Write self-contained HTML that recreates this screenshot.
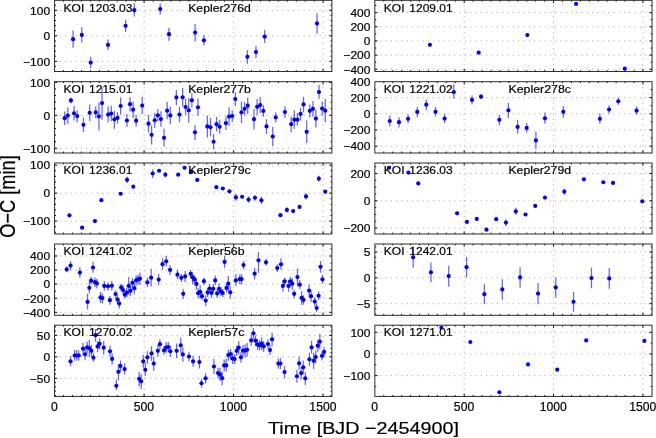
<!DOCTYPE html><html><head><meta charset="utf-8"><title>O-C</title><style>html,body{margin:0;padding:0;background:#fff}svg{display:block}text{font-family:"Liberation Sans",Arial,Helvetica,sans-serif;fill:#000;stroke:#000;stroke-width:0.2px}</style></head><body>
<svg width="656" height="438" viewBox="0 0 656 438">
<rect width="656" height="438" fill="#fff"/>
<g id="L1">
<path d="M144.1 0.3V71.5M233.6 0.3V71.5M323.1 0.3V71.5M54.6 61.3H331.9M54.6 35.8H331.9M54.6 10.3H331.9" stroke="#a4a4a4" stroke-width="0.85" stroke-dasharray="1.2 4.1" fill="none"/>
<path d="M63.55 71.5v-1.4M63.55 0.3v1.4M72.5 71.5v-1.4M72.5 0.3v1.4M81.45 71.5v-1.4M81.45 0.3v1.4M90.4 71.5v-1.4M90.4 0.3v1.4M99.35 71.5v-1.4M99.35 0.3v1.4M108.3 71.5v-1.4M108.3 0.3v1.4M117.25 71.5v-1.4M117.25 0.3v1.4M126.2 71.5v-1.4M126.2 0.3v1.4M135.15 71.5v-1.4M135.15 0.3v1.4M144.1 71.5v-2.7M144.1 0.3v2.7M153.05 71.5v-1.4M153.05 0.3v1.4M162 71.5v-1.4M162 0.3v1.4M170.95 71.5v-1.4M170.95 0.3v1.4M179.9 71.5v-1.4M179.9 0.3v1.4M188.85 71.5v-1.4M188.85 0.3v1.4M197.8 71.5v-1.4M197.8 0.3v1.4M206.75 71.5v-1.4M206.75 0.3v1.4M215.7 71.5v-1.4M215.7 0.3v1.4M224.65 71.5v-1.4M224.65 0.3v1.4M233.6 71.5v-2.7M233.6 0.3v2.7M242.55 71.5v-1.4M242.55 0.3v1.4M251.5 71.5v-1.4M251.5 0.3v1.4M260.45 71.5v-1.4M260.45 0.3v1.4M269.4 71.5v-1.4M269.4 0.3v1.4M278.35 71.5v-1.4M278.35 0.3v1.4M287.3 71.5v-1.4M287.3 0.3v1.4M296.25 71.5v-1.4M296.25 0.3v1.4M305.2 71.5v-1.4M305.2 0.3v1.4M314.15 71.5v-1.4M314.15 0.3v1.4M323.1 71.5v-2.7M323.1 0.3v2.7M54.6 71.5h1.4M331.9 71.5h-1.4M54.6 66.4h1.4M331.9 66.4h-1.4M54.6 61.3h2.7M331.9 61.3h-2.7M54.6 56.2h1.4M331.9 56.2h-1.4M54.6 51.1h1.4M331.9 51.1h-1.4M54.6 46h1.4M331.9 46h-1.4M54.6 40.9h1.4M331.9 40.9h-1.4M54.6 35.8h2.7M331.9 35.8h-2.7M54.6 30.7h1.4M331.9 30.7h-1.4M54.6 25.6h1.4M331.9 25.6h-1.4M54.6 20.5h1.4M331.9 20.5h-1.4M54.6 15.4h1.4M331.9 15.4h-1.4M54.6 10.3h2.7M331.9 10.3h-2.7M54.6 5.2h1.4M331.9 5.2h-1.4" stroke="#111" stroke-width="1.0" fill="none"/>
<clipPath id="cL1"><rect x="54.6" y="0.3" width="277.3" height="71.2"/></clipPath>
<g clip-path="url(#cL1)">
<path d="M73.1 30.5V47.7M81.8 27.2V42.8M90.7 56.8V68.3M108 39.5V50.2M125.6 19.8V32.1M134.3 3.3V16.5M160.2 3.6V14.5M169 27.7V40.8M195.15 23.9V41.5M203.9 35V45.6M247.4 49.9V63.7M255.96 46.1V58M264.7 30.1V43.1M317 13.2V33.75" stroke="#6464ff" stroke-width="1.25" fill="none"/>
<g fill="#0000ff"><circle cx="73.1" cy="39.2" r="2.1"/><circle cx="81.8" cy="34.9" r="2.1"/><circle cx="90.7" cy="62.6" r="2.1"/><circle cx="108" cy="44.9" r="2.1"/><circle cx="125.6" cy="25.8" r="2.1"/><circle cx="134.3" cy="10.2" r="2.1"/><circle cx="160.2" cy="9.1" r="2.1"/><circle cx="169" cy="34.2" r="2.1"/><circle cx="195.15" cy="32.6" r="2.1"/><circle cx="203.9" cy="40.3" r="2.1"/><circle cx="247.4" cy="56.8" r="2.1"/><circle cx="255.96" cy="52" r="2.1"/><circle cx="264.7" cy="36.7" r="2.1"/><circle cx="317" cy="23.4" r="2.1"/></g></g>
<rect x="54.6" y="0.3" width="277.3" height="71.2" fill="none" stroke="#222" stroke-width="0.95"/>
<text x="50.1" y="14.6" font-size="11.2" text-anchor="end" transform="translate(50.1 0) scale(1.07 1) translate(-50.1 0)">100</text>
<text x="50.1" y="40.1" font-size="11.2" text-anchor="end" transform="translate(50.1 0) scale(1.07 1) translate(-50.1 0)">0</text>
<text x="50.1" y="65.6" font-size="11.2" text-anchor="end" transform="translate(50.1 0) scale(1.07 1) translate(-50.1 0)">−100</text>
<text x="63.6" y="11.5" font-size="11.2" textLength="68.8" lengthAdjust="spacingAndGlyphs" word-spacing="1.4">KOI 1203.03</text>
<text x="188.2" y="11.5" font-size="11.2" textLength="62.6" lengthAdjust="spacingAndGlyphs">Kepler276d</text>
</g>
<g id="L2">
<path d="M144.1 81.7V153M233.6 81.7V153M323.1 81.7V153M54.6 148.3H331.9M54.6 115.3H331.9" stroke="#a4a4a4" stroke-width="0.85" stroke-dasharray="1.2 4.1" fill="none"/>
<path d="M63.55 153v-1.4M63.55 81.7v1.4M72.5 153v-1.4M72.5 81.7v1.4M81.45 153v-1.4M81.45 81.7v1.4M90.4 153v-1.4M90.4 81.7v1.4M99.35 153v-1.4M99.35 81.7v1.4M108.3 153v-1.4M108.3 81.7v1.4M117.25 153v-1.4M117.25 81.7v1.4M126.2 153v-1.4M126.2 81.7v1.4M135.15 153v-1.4M135.15 81.7v1.4M144.1 153v-2.7M144.1 81.7v2.7M153.05 153v-1.4M153.05 81.7v1.4M162 153v-1.4M162 81.7v1.4M170.95 153v-1.4M170.95 81.7v1.4M179.9 153v-1.4M179.9 81.7v1.4M188.85 153v-1.4M188.85 81.7v1.4M197.8 153v-1.4M197.8 81.7v1.4M206.75 153v-1.4M206.75 81.7v1.4M215.7 153v-1.4M215.7 81.7v1.4M224.65 153v-1.4M224.65 81.7v1.4M233.6 153v-2.7M233.6 81.7v2.7M242.55 153v-1.4M242.55 81.7v1.4M251.5 153v-1.4M251.5 81.7v1.4M260.45 153v-1.4M260.45 81.7v1.4M269.4 153v-1.4M269.4 81.7v1.4M278.35 153v-1.4M278.35 81.7v1.4M287.3 153v-1.4M287.3 81.7v1.4M296.25 153v-1.4M296.25 81.7v1.4M305.2 153v-1.4M305.2 81.7v1.4M314.15 153v-1.4M314.15 81.7v1.4M323.1 153v-2.7M323.1 81.7v2.7M54.6 148.3h2.7M331.9 148.3h-2.7M54.6 141.7h1.4M331.9 141.7h-1.4M54.6 135.1h1.4M331.9 135.1h-1.4M54.6 128.5h1.4M331.9 128.5h-1.4M54.6 121.9h1.4M331.9 121.9h-1.4M54.6 115.3h2.7M331.9 115.3h-2.7M54.6 108.7h1.4M331.9 108.7h-1.4M54.6 102.1h1.4M331.9 102.1h-1.4M54.6 95.5h1.4M331.9 95.5h-1.4M54.6 88.9h1.4M331.9 88.9h-1.4M54.6 82.3h2.7M331.9 82.3h-2.7" stroke="#111" stroke-width="1.0" fill="none"/>
<clipPath id="cL2"><rect x="54.6" y="81.7" width="277.3" height="71.3"/></clipPath>
<g clip-path="url(#cL2)">
<path d="M64.68 111.46V124.96M67.8 107.34V123.8M70.93 97.46V103.55M74.06 105.7V120.51M77.19 110.3V122.16M83.45 117.55V132.04M89.7 104.54V121.01M95.79 106.19V118.54M98.92 102.4V130.39M102.05 87.59V119.69M108.14 106.52V122.49M111.27 105.7V121.34M114.4 110.63V128.74M117.52 112.28V123.48M120.65 97.46V114.42M126.91 113.93V127.1M130.04 97.13V111.46M133.16 101.58V118.04M136.13 114.75V126.77M142.22 96.97V113.93M148.48 114.75V132.53M151.6 125.45V144.38M154.73 112.77V127.92M157.86 108.99V121.34M160.91 111.13V126.77M164.04 128.74V146.85M167.16 102.07V119.2M170.29 106.52V124.13M176.38 90.05V105.2M179.51 107.01V122.16M182.64 87.91V106.85M185.6 98.78V115.24M188.73 97.96V122.65M191.86 93.35V107.34M194.99 125.12V139.94M197.95 98.62V116.07M207.34 115.57V137.47M210.46 118.04V136.48M213.59 134.18V149.32M216.55 116.89V131.54M219.68 119.69V133.85M225.94 116.4V129.9M229.07 107.34V125.78M232.2 110.14V122.16M235.32 92.2V106.02M241.48 101.58V123.31M244.6 102.07V115.57M247.73 97.46V113.93M253.99 108.99V129.57M257.12 99.11V114.75M260.24 96.97V113.1M263.37 105.2V116.73M266.5 119.2V134.01M272.76 126.77V146.36M275.72 112.28V122.49M284.94 106.19V118.04M291.2 116.4V132.37M294.32 110.3V129.07M297.45 113.1V125.78M300.58 107.67V120.51M303.54 96.64V112.28M306.67 120.51V143.23M309.8 104.54V117.55M312.93 101.09V116.73M315.89 109.81V127.59M319.02 85.12V98.78M322.15 101.58V115.57M325.27 99.11V122.16" stroke="#6464ff" stroke-width="1.25" fill="none"/>
<g fill="#0000ff"><circle cx="64.68" cy="118.21" r="2.1"/><circle cx="67.8" cy="115.57" r="2.1"/><circle cx="70.93" cy="100.43" r="2.1"/><circle cx="74.06" cy="113.27" r="2.1"/><circle cx="77.19" cy="116.07" r="2.1"/><circle cx="83.45" cy="124.79" r="2.1"/><circle cx="89.7" cy="112.77" r="2.1"/><circle cx="95.79" cy="112.45" r="2.1"/><circle cx="98.92" cy="116.4" r="2.1"/><circle cx="102.05" cy="103.06" r="2.1"/><circle cx="108.14" cy="114.59" r="2.1"/><circle cx="111.27" cy="113.6" r="2.1"/><circle cx="114.4" cy="119.36" r="2.1"/><circle cx="117.52" cy="117.88" r="2.1"/><circle cx="120.65" cy="106.02" r="2.1"/><circle cx="126.91" cy="120.51" r="2.1"/><circle cx="130.04" cy="104.21" r="2.1"/><circle cx="133.16" cy="109.65" r="2.1"/><circle cx="136.13" cy="120.68" r="2.1"/><circle cx="142.22" cy="105.53" r="2.1"/><circle cx="148.48" cy="123.64" r="2.1"/><circle cx="151.6" cy="134.84" r="2.1"/><circle cx="154.73" cy="120.35" r="2.1"/><circle cx="157.86" cy="115.24" r="2.1"/><circle cx="160.91" cy="119.03" r="2.1"/><circle cx="164.04" cy="137.8" r="2.1"/><circle cx="167.16" cy="110.63" r="2.1"/><circle cx="170.29" cy="115.41" r="2.1"/><circle cx="176.38" cy="97.46" r="2.1"/><circle cx="179.51" cy="114.59" r="2.1"/><circle cx="182.64" cy="97.3" r="2.1"/><circle cx="185.6" cy="107.01" r="2.1"/><circle cx="188.73" cy="110.3" r="2.1"/><circle cx="191.86" cy="100.26" r="2.1"/><circle cx="194.99" cy="132.37" r="2.1"/><circle cx="197.95" cy="107.34" r="2.1"/><circle cx="207.34" cy="126.44" r="2.1"/><circle cx="210.46" cy="127.26" r="2.1"/><circle cx="213.59" cy="141.75" r="2.1"/><circle cx="216.55" cy="124.13" r="2.1"/><circle cx="219.68" cy="126.77" r="2.1"/><circle cx="225.94" cy="123.15" r="2.1"/><circle cx="229.07" cy="116.56" r="2.1"/><circle cx="232.2" cy="116.07" r="2.1"/><circle cx="235.32" cy="99.11" r="2.1"/><circle cx="241.48" cy="112.28" r="2.1"/><circle cx="244.6" cy="108.82" r="2.1"/><circle cx="247.73" cy="105.7" r="2.1"/><circle cx="253.99" cy="119.2" r="2.1"/><circle cx="257.12" cy="106.85" r="2.1"/><circle cx="260.24" cy="105.04" r="2.1"/><circle cx="263.37" cy="110.96" r="2.1"/><circle cx="266.5" cy="126.44" r="2.1"/><circle cx="272.76" cy="136.48" r="2.1"/><circle cx="275.72" cy="117.38" r="2.1"/><circle cx="284.94" cy="112.12" r="2.1"/><circle cx="291.2" cy="124.13" r="2.1"/><circle cx="294.32" cy="119.69" r="2.1"/><circle cx="297.45" cy="119.69" r="2.1"/><circle cx="300.58" cy="113.93" r="2.1"/><circle cx="303.54" cy="104.38" r="2.1"/><circle cx="306.67" cy="131.87" r="2.1"/><circle cx="309.8" cy="110.8" r="2.1"/><circle cx="312.93" cy="108.82" r="2.1"/><circle cx="315.89" cy="118.54" r="2.1"/><circle cx="319.02" cy="92.03" r="2.1"/><circle cx="322.15" cy="108.49" r="2.1"/><circle cx="325.27" cy="110.63" r="2.1"/></g></g>
<rect x="54.6" y="81.7" width="277.3" height="71.3" fill="none" stroke="#222" stroke-width="0.95"/>
<text x="50.1" y="86.6" font-size="11.2" text-anchor="end" transform="translate(50.1 0) scale(1.07 1) translate(-50.1 0)">100</text>
<text x="50.1" y="119.6" font-size="11.2" text-anchor="end" transform="translate(50.1 0) scale(1.07 1) translate(-50.1 0)">0</text>
<text x="50.1" y="152.6" font-size="11.2" text-anchor="end" transform="translate(50.1 0) scale(1.07 1) translate(-50.1 0)">−100</text>
<text x="63.6" y="93.2" font-size="11.2" textLength="68.8" lengthAdjust="spacingAndGlyphs" word-spacing="1.4">KOI 1215.01</text>
<text x="188.2" y="93.2" font-size="11.2" textLength="62.6" lengthAdjust="spacingAndGlyphs">Kepler277b</text>
</g>
<g id="L3">
<path d="M144.1 163V234M233.6 163V234M323.1 163V234M54.6 221.1H331.9M54.6 193.15H331.9M54.6 165.2H331.9" stroke="#a4a4a4" stroke-width="0.85" stroke-dasharray="1.2 4.1" fill="none"/>
<path d="M63.55 234v-1.4M63.55 163v1.4M72.5 234v-1.4M72.5 163v1.4M81.45 234v-1.4M81.45 163v1.4M90.4 234v-1.4M90.4 163v1.4M99.35 234v-1.4M99.35 163v1.4M108.3 234v-1.4M108.3 163v1.4M117.25 234v-1.4M117.25 163v1.4M126.2 234v-1.4M126.2 163v1.4M135.15 234v-1.4M135.15 163v1.4M144.1 234v-2.7M144.1 163v2.7M153.05 234v-1.4M153.05 163v1.4M162 234v-1.4M162 163v1.4M170.95 234v-1.4M170.95 163v1.4M179.9 234v-1.4M179.9 163v1.4M188.85 234v-1.4M188.85 163v1.4M197.8 234v-1.4M197.8 163v1.4M206.75 234v-1.4M206.75 163v1.4M215.7 234v-1.4M215.7 163v1.4M224.65 234v-1.4M224.65 163v1.4M233.6 234v-2.7M233.6 163v2.7M242.55 234v-1.4M242.55 163v1.4M251.5 234v-1.4M251.5 163v1.4M260.45 234v-1.4M260.45 163v1.4M269.4 234v-1.4M269.4 163v1.4M278.35 234v-1.4M278.35 163v1.4M287.3 234v-1.4M287.3 163v1.4M296.25 234v-1.4M296.25 163v1.4M305.2 234v-1.4M305.2 163v1.4M314.15 234v-1.4M314.15 163v1.4M323.1 234v-2.7M323.1 163v2.7M54.6 232.28h1.4M331.9 232.28h-1.4M54.6 226.69h1.4M331.9 226.69h-1.4M54.6 221.1h2.7M331.9 221.1h-2.7M54.6 215.51h1.4M331.9 215.51h-1.4M54.6 209.92h1.4M331.9 209.92h-1.4M54.6 204.33h1.4M331.9 204.33h-1.4M54.6 198.74h1.4M331.9 198.74h-1.4M54.6 193.15h2.7M331.9 193.15h-2.7M54.6 187.56h1.4M331.9 187.56h-1.4M54.6 181.97h1.4M331.9 181.97h-1.4M54.6 176.38h1.4M331.9 176.38h-1.4M54.6 170.79h1.4M331.9 170.79h-1.4M54.6 165.2h2.7M331.9 165.2h-2.7" stroke="#111" stroke-width="1.0" fill="none"/>
<clipPath id="cL3"><rect x="54.6" y="163" width="277.3" height="71"/></clipPath>
<g clip-path="url(#cL3)">
<path d="M127.07 176.49V183.07M152.68 169.41V177.97M165.35 172.21V177.15M235.88 194.1V200.69M248.55 196.57V202.66M254.98 194.93V200.69M261.4 196.57V203.98M286.91 207.27V212.54M306.01 193.28V199.54M318.85 175.66V181.43" stroke="#6464ff" stroke-width="1.25" fill="none"/>
<g fill="#0000ff"><circle cx="69.45" cy="215.34" r="2.1"/><circle cx="82.13" cy="227.69" r="2.1"/><circle cx="94.97" cy="221.1" r="2.1"/><circle cx="101.39" cy="200.2" r="2.1"/><circle cx="120.65" cy="193.77" r="2.1"/><circle cx="127.07" cy="179.78" r="2.1"/><circle cx="133.33" cy="186.7" r="2.1"/><circle cx="152.68" cy="173.52" r="2.1"/><circle cx="159.1" cy="170.73" r="2.1"/><circle cx="165.35" cy="174.68" r="2.1"/><circle cx="178.2" cy="174.68" r="2.1"/><circle cx="184.62" cy="167.76" r="2.1"/><circle cx="191.04" cy="172.21" r="2.1"/><circle cx="197.29" cy="179.95" r="2.1"/><circle cx="216.39" cy="187.19" r="2.1"/><circle cx="222.81" cy="188.51" r="2.1"/><circle cx="229.46" cy="191.3" r="2.1"/><circle cx="235.88" cy="197.4" r="2.1"/><circle cx="242.13" cy="196.74" r="2.1"/><circle cx="248.55" cy="199.54" r="2.1"/><circle cx="254.98" cy="197.73" r="2.1"/><circle cx="261.4" cy="200.36" r="2.1"/><circle cx="280.49" cy="215.18" r="2.1"/><circle cx="286.91" cy="209.91" r="2.1"/><circle cx="293.17" cy="211.06" r="2.1"/><circle cx="299.59" cy="206.95" r="2.1"/><circle cx="306.01" cy="196.41" r="2.1"/><circle cx="318.85" cy="178.63" r="2.1"/><circle cx="325.27" cy="191.63" r="2.1"/></g></g>
<rect x="54.6" y="163" width="277.3" height="71" fill="none" stroke="#222" stroke-width="0.95"/>
<text x="50.1" y="169.5" font-size="11.2" text-anchor="end" transform="translate(50.1 0) scale(1.07 1) translate(-50.1 0)">100</text>
<text x="50.1" y="197.45" font-size="11.2" text-anchor="end" transform="translate(50.1 0) scale(1.07 1) translate(-50.1 0)">0</text>
<text x="50.1" y="225.4" font-size="11.2" text-anchor="end" transform="translate(50.1 0) scale(1.07 1) translate(-50.1 0)">−100</text>
<text x="63.6" y="174" font-size="11.2" textLength="68.8" lengthAdjust="spacingAndGlyphs" word-spacing="1.4">KOI 1236.01</text>
<text x="188.2" y="174" font-size="11.2" textLength="62.6" lengthAdjust="spacingAndGlyphs">Kepler279c</text>
</g>
<g id="L4">
<path d="M144.1 244V315.3M233.6 244V315.3M323.1 244V315.3M54.6 312.3H331.9M54.6 298.23H331.9M54.6 284.15H331.9M54.6 270.07H331.9M54.6 256H331.9" stroke="#a4a4a4" stroke-width="0.85" stroke-dasharray="1.2 4.1" fill="none"/>
<path d="M63.55 315.3v-1.4M63.55 244v1.4M72.5 315.3v-1.4M72.5 244v1.4M81.45 315.3v-1.4M81.45 244v1.4M90.4 315.3v-1.4M90.4 244v1.4M99.35 315.3v-1.4M99.35 244v1.4M108.3 315.3v-1.4M108.3 244v1.4M117.25 315.3v-1.4M117.25 244v1.4M126.2 315.3v-1.4M126.2 244v1.4M135.15 315.3v-1.4M135.15 244v1.4M144.1 315.3v-2.7M144.1 244v2.7M153.05 315.3v-1.4M153.05 244v1.4M162 315.3v-1.4M162 244v1.4M170.95 315.3v-1.4M170.95 244v1.4M179.9 315.3v-1.4M179.9 244v1.4M188.85 315.3v-1.4M188.85 244v1.4M197.8 315.3v-1.4M197.8 244v1.4M206.75 315.3v-1.4M206.75 244v1.4M215.7 315.3v-1.4M215.7 244v1.4M224.65 315.3v-1.4M224.65 244v1.4M233.6 315.3v-2.7M233.6 244v2.7M242.55 315.3v-1.4M242.55 244v1.4M251.5 315.3v-1.4M251.5 244v1.4M260.45 315.3v-1.4M260.45 244v1.4M269.4 315.3v-1.4M269.4 244v1.4M278.35 315.3v-1.4M278.35 244v1.4M287.3 315.3v-1.4M287.3 244v1.4M296.25 315.3v-1.4M296.25 244v1.4M305.2 315.3v-1.4M305.2 244v1.4M314.15 315.3v-1.4M314.15 244v1.4M323.1 315.3v-2.7M323.1 244v2.7M54.6 312.3h2.7M331.9 312.3h-2.7M54.6 305.26h1.4M331.9 305.26h-1.4M54.6 298.23h2.7M331.9 298.23h-2.7M54.6 291.19h1.4M331.9 291.19h-1.4M54.6 284.15h2.7M331.9 284.15h-2.7M54.6 277.11h1.4M331.9 277.11h-1.4M54.6 270.07h2.7M331.9 270.07h-2.7M54.6 263.04h1.4M331.9 263.04h-1.4M54.6 256h2.7M331.9 256h-2.7M54.6 248.96h1.4M331.9 248.96h-1.4" stroke="#111" stroke-width="1.0" fill="none"/>
<clipPath id="cL4"><rect x="54.6" y="244" width="277.3" height="71.3"/></clipPath>
<g clip-path="url(#cL4)">
<path d="M66.7 266.41V272.3M70.54 260.92V270.25M79.87 267.37V277.79M87.55 293.84V309.62M89.34 281.5V293.16M91.12 276.7V284.52M93.04 261.88V272.85M94.96 277.38V286.98M96.88 278.75V288.36M100.45 291.79V303.04M102.37 293.16V303.45M104.29 281.09V290.69M108 282.18V290.69M109.92 295.9V304.82M111.84 281.09V290.41M115.54 290.41V297.96M117.46 295.22V303.86M119.25 299.33V308.52M121.17 283.83V291.1M123.09 285.61V294.53M124.87 290.41V298.65M126.79 287.95V297.27M128.71 276.97V294.8M130.5 285.61V296.18M132.42 278.07V287.67M134.34 282.46V294.53M136.12 275.32V285.61M138.04 274.64V284.65M139.96 272.58V284.93M147.42 277.38V286.98M151.13 268.74V286.57M158.67 273.68V285.34M162.52 258.17V269.84M166.22 256.12V266.41M170.06 265.03V274.91M177.47 269.84V279.16M181.31 273.95V281.91M183.23 289.04V298.65M185.15 270.93V281.91M190.64 269.84V278.07M192.56 272.58V284.24M194.48 275.32V283.55M196.4 278.75V289.73M198.19 288.36V297.96M200.11 284.93V298.65M202.03 291.79V300.29M203.95 277.38V284.93M205.73 295.22V306.19M207.65 287.95V297M209.57 283.83V293.16M211.49 287.95V297.96M213.28 284.24V293.16M215.2 275.6V284.93M217.12 289.04V297.96M219.04 283.55V293.84M220.9 286.98V295.9M222.68 289.04V297M224.6 255.84V267.78M226.52 283.55V292.47M228.3 276.01V291.1M230.23 286.3V298.65M235.85 273.95V286.3M239.83 274.23V284.24M241.61 273.95V284.24M243.53 260.92V269.15M254.65 267.78V279.44M258.49 252V272.85M266.03 258.86V265.72M277.28 264.35V271.89M280.99 258.17V269.84M282.91 280.12V291.79M284.69 277.38V285.61M288.53 280.12V291.79M290.32 276.7V286.3M292.24 278.07V289.73M294.16 289.73V298.37M297.45 268.46V286.3M299.8 280.12V289.04M301.59 291.1V304.82M303.51 295.22V304.82M309.13 284.24V296.59M311.05 290.41V302.08M314.76 297.27V306.19M316.68 303.45V311.95M318.6 291.51V300.02M320.52 260.92V272.85M322.44 274.64V283.83" stroke="#6464ff" stroke-width="1.25" fill="none"/>
<g fill="#0000ff"><circle cx="66.7" cy="269.42" r="2.1"/><circle cx="70.54" cy="265.58" r="2.1"/><circle cx="79.87" cy="272.58" r="2.1"/><circle cx="87.55" cy="301.94" r="2.1"/><circle cx="89.34" cy="287.81" r="2.1"/><circle cx="91.12" cy="280.67" r="2.1"/><circle cx="93.04" cy="267.5" r="2.1"/><circle cx="94.96" cy="282.18" r="2.1"/><circle cx="96.88" cy="283.42" r="2.1"/><circle cx="100.45" cy="297.41" r="2.1"/><circle cx="102.37" cy="298.1" r="2.1"/><circle cx="104.29" cy="285.89" r="2.1"/><circle cx="108" cy="286.3" r="2.1"/><circle cx="109.92" cy="300.16" r="2.1"/><circle cx="111.84" cy="285.75" r="2.1"/><circle cx="115.54" cy="293.98" r="2.1"/><circle cx="117.46" cy="299.47" r="2.1"/><circle cx="119.25" cy="303.59" r="2.1"/><circle cx="121.17" cy="287.4" r="2.1"/><circle cx="123.09" cy="290" r="2.1"/><circle cx="124.87" cy="294.67" r="2.1"/><circle cx="126.79" cy="292.61" r="2.1"/><circle cx="128.71" cy="285.89" r="2.1"/><circle cx="130.5" cy="290.83" r="2.1"/><circle cx="132.42" cy="282.87" r="2.1"/><circle cx="134.34" cy="288.22" r="2.1"/><circle cx="136.12" cy="280.26" r="2.1"/><circle cx="138.04" cy="279.44" r="2.1"/><circle cx="139.96" cy="278.62" r="2.1"/><circle cx="147.42" cy="282.32" r="2.1"/><circle cx="151.13" cy="277.66" r="2.1"/><circle cx="158.67" cy="279.58" r="2.1"/><circle cx="162.52" cy="264.21" r="2.1"/><circle cx="166.22" cy="261.33" r="2.1"/><circle cx="170.06" cy="269.97" r="2.1"/><circle cx="177.47" cy="274.64" r="2.1"/><circle cx="181.31" cy="277.79" r="2.1"/><circle cx="183.23" cy="293.84" r="2.1"/><circle cx="185.15" cy="276.42" r="2.1"/><circle cx="190.64" cy="273.81" r="2.1"/><circle cx="192.56" cy="277.24" r="2.1"/><circle cx="194.48" cy="279.44" r="2.1"/><circle cx="196.4" cy="283.97" r="2.1"/><circle cx="198.19" cy="293.16" r="2.1"/><circle cx="200.11" cy="291.79" r="2.1"/><circle cx="202.03" cy="296.18" r="2.1"/><circle cx="203.95" cy="281.22" r="2.1"/><circle cx="205.73" cy="300.57" r="2.1"/><circle cx="207.65" cy="292.47" r="2.1"/><circle cx="209.57" cy="288.49" r="2.1"/><circle cx="211.49" cy="292.88" r="2.1"/><circle cx="213.28" cy="288.77" r="2.1"/><circle cx="215.2" cy="280.4" r="2.1"/><circle cx="217.12" cy="293.43" r="2.1"/><circle cx="219.04" cy="288.77" r="2.1"/><circle cx="220.9" cy="291.51" r="2.1"/><circle cx="222.68" cy="292.88" r="2.1"/><circle cx="224.6" cy="261.88" r="2.1"/><circle cx="226.52" cy="287.95" r="2.1"/><circle cx="228.3" cy="283.69" r="2.1"/><circle cx="230.23" cy="292.34" r="2.1"/><circle cx="235.85" cy="280.4" r="2.1"/><circle cx="239.83" cy="279.03" r="2.1"/><circle cx="241.61" cy="279.03" r="2.1"/><circle cx="243.53" cy="265.03" r="2.1"/><circle cx="254.65" cy="273.68" r="2.1"/><circle cx="258.49" cy="260.23" r="2.1"/><circle cx="266.03" cy="262.29" r="2.1"/><circle cx="277.28" cy="268.05" r="2.1"/><circle cx="280.99" cy="264.35" r="2.1"/><circle cx="282.91" cy="285.89" r="2.1"/><circle cx="284.69" cy="281.36" r="2.1"/><circle cx="288.53" cy="285.89" r="2.1"/><circle cx="290.32" cy="281.36" r="2.1"/><circle cx="292.24" cy="283.69" r="2.1"/><circle cx="294.16" cy="293.84" r="2.1"/><circle cx="297.45" cy="277.11" r="2.1"/><circle cx="299.8" cy="284.65" r="2.1"/><circle cx="301.59" cy="297.96" r="2.1"/><circle cx="303.51" cy="299.88" r="2.1"/><circle cx="309.13" cy="290.55" r="2.1"/><circle cx="311.05" cy="296.18" r="2.1"/><circle cx="314.76" cy="301.53" r="2.1"/><circle cx="316.68" cy="307.98" r="2.1"/><circle cx="318.6" cy="295.77" r="2.1"/><circle cx="320.52" cy="266.82" r="2.1"/><circle cx="322.44" cy="279.3" r="2.1"/></g></g>
<rect x="54.6" y="244" width="277.3" height="71.3" fill="none" stroke="#222" stroke-width="0.95"/>
<text x="50.1" y="260.3" font-size="11.2" text-anchor="end" transform="translate(50.1 0) scale(1.07 1) translate(-50.1 0)">400</text>
<text x="50.1" y="274.38" font-size="11.2" text-anchor="end" transform="translate(50.1 0) scale(1.07 1) translate(-50.1 0)">200</text>
<text x="50.1" y="288.45" font-size="11.2" text-anchor="end" transform="translate(50.1 0) scale(1.07 1) translate(-50.1 0)">0</text>
<text x="50.1" y="302.53" font-size="11.2" text-anchor="end" transform="translate(50.1 0) scale(1.07 1) translate(-50.1 0)">−200</text>
<text x="50.1" y="316.6" font-size="11.2" text-anchor="end" transform="translate(50.1 0) scale(1.07 1) translate(-50.1 0)">−400</text>
<text x="63.6" y="255" font-size="11.2" textLength="68.8" lengthAdjust="spacingAndGlyphs" word-spacing="1.4">KOI 1241.02</text>
<text x="188.2" y="255" font-size="11.2" textLength="56.4" lengthAdjust="spacingAndGlyphs">Kepler56b</text>
</g>
<g id="L5">
<path d="M144.1 325.2V396.4M233.6 325.2V396.4M323.1 325.2V396.4M54.6 378.3H331.9M54.6 356.85H331.9M54.6 335.4H331.9" stroke="#a4a4a4" stroke-width="0.85" stroke-dasharray="1.2 4.1" fill="none"/>
<path d="M63.55 396.4v-1.4M63.55 325.2v1.4M72.5 396.4v-1.4M72.5 325.2v1.4M81.45 396.4v-1.4M81.45 325.2v1.4M90.4 396.4v-1.4M90.4 325.2v1.4M99.35 396.4v-1.4M99.35 325.2v1.4M108.3 396.4v-1.4M108.3 325.2v1.4M117.25 396.4v-1.4M117.25 325.2v1.4M126.2 396.4v-1.4M126.2 325.2v1.4M135.15 396.4v-1.4M135.15 325.2v1.4M144.1 396.4v-2.7M144.1 325.2v2.7M153.05 396.4v-1.4M153.05 325.2v1.4M162 396.4v-1.4M162 325.2v1.4M170.95 396.4v-1.4M170.95 325.2v1.4M179.9 396.4v-1.4M179.9 325.2v1.4M188.85 396.4v-1.4M188.85 325.2v1.4M197.8 396.4v-1.4M197.8 325.2v1.4M206.75 396.4v-1.4M206.75 325.2v1.4M215.7 396.4v-1.4M215.7 325.2v1.4M224.65 396.4v-1.4M224.65 325.2v1.4M233.6 396.4v-2.7M233.6 325.2v2.7M242.55 396.4v-1.4M242.55 325.2v1.4M251.5 396.4v-1.4M251.5 325.2v1.4M260.45 396.4v-1.4M260.45 325.2v1.4M269.4 396.4v-1.4M269.4 325.2v1.4M278.35 396.4v-1.4M278.35 325.2v1.4M287.3 396.4v-1.4M287.3 325.2v1.4M296.25 396.4v-1.4M296.25 325.2v1.4M305.2 396.4v-1.4M305.2 325.2v1.4M314.15 396.4v-1.4M314.15 325.2v1.4M323.1 396.4v-2.7M323.1 325.2v2.7M54.6 395.46h1.4M331.9 395.46h-1.4M54.6 391.17h1.4M331.9 391.17h-1.4M54.6 386.88h1.4M331.9 386.88h-1.4M54.6 382.59h1.4M331.9 382.59h-1.4M54.6 378.3h2.7M331.9 378.3h-2.7M54.6 374.01h1.4M331.9 374.01h-1.4M54.6 369.72h1.4M331.9 369.72h-1.4M54.6 365.43h1.4M331.9 365.43h-1.4M54.6 361.14h1.4M331.9 361.14h-1.4M54.6 356.85h2.7M331.9 356.85h-2.7M54.6 352.56h1.4M331.9 352.56h-1.4M54.6 348.27h1.4M331.9 348.27h-1.4M54.6 343.98h1.4M331.9 343.98h-1.4M54.6 339.69h1.4M331.9 339.69h-1.4M54.6 335.4h2.7M331.9 335.4h-2.7M54.6 331.11h1.4M331.9 331.11h-1.4M54.6 326.82h1.4M331.9 326.82h-1.4" stroke="#111" stroke-width="1.0" fill="none"/>
<clipPath id="cL5"><rect x="54.6" y="325.2" width="277.3" height="71.2"/></clipPath>
<g clip-path="url(#cL5)">
<path d="M70.54 356.07V366.36M74.66 349.89V360.87M76.72 349.89V360.87M78.77 350.58V360.46M83.03 343.03V354.42M85.09 348.52V360.18M87.14 341.66V353.32M89.34 339.88V357.16M91.4 345.09V356.75M93.45 353.32V361.83M95.51 329.1V341.66M97.57 340.98V352.23M99.63 338.23V349.48M103.74 340.98V354.7M110.05 345.78V356.75M112.11 353.32V364.57M116.37 379.39V389.95M118.42 364.3V380.08M120.48 360.46V371.43M124.6 363.34V374.59M139.14 371.84V386.25M141.2 373.9V388.99M143.26 354.7V367.73M145.31 362.93V375.96M147.42 351.27V363.61M151.54 346.19V360.87M153.73 356.75V370.88M157.85 345.09V356.75M159.91 339.33V349.21M164.02 345.78V354.97M166.08 342.07V353.05M168.28 342.07V351.95M170.34 345.78V357.03M176.65 343.45V358.12M180.76 337.55V353.05M182.82 347.15V361.83M188.99 351.68V361.28M193.11 355.79V366.77M199.42 356.07V368.41M201.48 378.7V387.62M205.59 373.22V383.51M213.96 359.09V373.9M218.08 367.73V378.7M220.07 367.73V381.04M222.13 371.16V385.56M224.19 359.5V371.16M226.25 358.81V371.84M228.3 349.89V360.87M230.5 348.93V359.5M232.56 352.64V364.02M234.62 354.01V364.3M236.67 345.78V356.07M238.73 341.25V354.42M240.93 351.95V362.65M242.98 345.09V356.07M245.04 344.41V357.44M247.1 343.03V356.75M251.22 334.8V345.78M253.41 327.9V338.92M255.47 335.49V346.19M257.53 338.92V349.89M259.59 340.29V350.58M261.64 337.55V350.3M263.7 340.98V351.95M267.95 339.33V348.8M270.01 345.09V355.11M272.07 332.47V346.19M278.38 358.54V368.69M280.44 358.12V369.1M284.55 365.95V378.29M296.9 369.79V382.82M299.12 356.75V369.79M301.17 367.04V379.39M303.23 360.46V374.18M305.29 372.26V384.88M309.41 352.64V365.95M311.6 340.98V353.6M313.66 352.64V369.1M315.72 350.58V363.61M317.77 339.6V351.68M319.83 334.12V349.21M322.03 351.27V360.46M324.09 347.15V356.75" stroke="#6464ff" stroke-width="1.25" fill="none"/>
<g fill="#0000ff"><circle cx="70.54" cy="361.28" r="2.1"/><circle cx="74.66" cy="355.52" r="2.1"/><circle cx="76.72" cy="355.52" r="2.1"/><circle cx="78.77" cy="355.52" r="2.1"/><circle cx="83.03" cy="348.66" r="2.1"/><circle cx="85.09" cy="354.28" r="2.1"/><circle cx="87.14" cy="347.42" r="2.1"/><circle cx="89.34" cy="348.25" r="2.1"/><circle cx="91.4" cy="350.85" r="2.1"/><circle cx="93.45" cy="357.71" r="2.1"/><circle cx="95.51" cy="335.21" r="2.1"/><circle cx="97.57" cy="346.46" r="2.1"/><circle cx="99.63" cy="343.86" r="2.1"/><circle cx="103.74" cy="347.7" r="2.1"/><circle cx="110.05" cy="351.27" r="2.1"/><circle cx="112.11" cy="358.95" r="2.1"/><circle cx="116.37" cy="385.84" r="2.1"/><circle cx="118.42" cy="371.84" r="2.1"/><circle cx="120.48" cy="365.95" r="2.1"/><circle cx="124.6" cy="369.1" r="2.1"/><circle cx="139.14" cy="378.84" r="2.1"/><circle cx="141.2" cy="381.31" r="2.1"/><circle cx="143.26" cy="361.28" r="2.1"/><circle cx="145.31" cy="369.79" r="2.1"/><circle cx="147.42" cy="357.3" r="2.1"/><circle cx="151.54" cy="353.46" r="2.1"/><circle cx="153.73" cy="363.61" r="2.1"/><circle cx="157.85" cy="350.85" r="2.1"/><circle cx="159.91" cy="344.13" r="2.1"/><circle cx="164.02" cy="350.3" r="2.1"/><circle cx="166.08" cy="347.56" r="2.1"/><circle cx="168.28" cy="347.01" r="2.1"/><circle cx="170.34" cy="351.27" r="2.1"/><circle cx="176.65" cy="350.85" r="2.1"/><circle cx="180.76" cy="345.23" r="2.1"/><circle cx="182.82" cy="354.42" r="2.1"/><circle cx="188.99" cy="356.48" r="2.1"/><circle cx="193.11" cy="361.28" r="2.1"/><circle cx="199.42" cy="362.1" r="2.1"/><circle cx="201.48" cy="383.23" r="2.1"/><circle cx="205.59" cy="378.29" r="2.1"/><circle cx="213.96" cy="366.49" r="2.1"/><circle cx="218.08" cy="373.08" r="2.1"/><circle cx="220.07" cy="374.59" r="2.1"/><circle cx="222.13" cy="378.16" r="2.1"/><circle cx="224.19" cy="365.4" r="2.1"/><circle cx="226.25" cy="365.4" r="2.1"/><circle cx="228.3" cy="355.11" r="2.1"/><circle cx="230.5" cy="354.01" r="2.1"/><circle cx="232.56" cy="358.4" r="2.1"/><circle cx="234.62" cy="359.09" r="2.1"/><circle cx="236.67" cy="350.85" r="2.1"/><circle cx="238.73" cy="347.7" r="2.1"/><circle cx="240.93" cy="357.3" r="2.1"/><circle cx="242.98" cy="350.58" r="2.1"/><circle cx="245.04" cy="350.58" r="2.1"/><circle cx="247.1" cy="349.76" r="2.1"/><circle cx="251.22" cy="340.29" r="2.1"/><circle cx="253.41" cy="333.29" r="2.1"/><circle cx="255.47" cy="340.7" r="2.1"/><circle cx="257.53" cy="344.41" r="2.1"/><circle cx="259.59" cy="345.37" r="2.1"/><circle cx="261.64" cy="343.72" r="2.1"/><circle cx="263.7" cy="346.33" r="2.1"/><circle cx="267.95" cy="343.99" r="2.1"/><circle cx="270.01" cy="350.03" r="2.1"/><circle cx="272.07" cy="339.33" r="2.1"/><circle cx="278.38" cy="363.61" r="2.1"/><circle cx="280.44" cy="363.48" r="2.1"/><circle cx="284.55" cy="371.98" r="2.1"/><circle cx="296.9" cy="376.23" r="2.1"/><circle cx="299.12" cy="363.34" r="2.1"/><circle cx="301.17" cy="373.08" r="2.1"/><circle cx="303.23" cy="367.32" r="2.1"/><circle cx="305.29" cy="378.29" r="2.1"/><circle cx="309.41" cy="359.36" r="2.1"/><circle cx="311.6" cy="347.42" r="2.1"/><circle cx="313.66" cy="360.87" r="2.1"/><circle cx="315.72" cy="357.03" r="2.1"/><circle cx="317.77" cy="345.64" r="2.1"/><circle cx="319.83" cy="341.66" r="2.1"/><circle cx="322.03" cy="355.79" r="2.1"/><circle cx="324.09" cy="351.95" r="2.1"/></g></g>
<rect x="54.6" y="325.2" width="277.3" height="71.2" fill="none" stroke="#222" stroke-width="0.95"/>
<text x="50.1" y="339.7" font-size="11.2" text-anchor="end" transform="translate(50.1 0) scale(1.07 1) translate(-50.1 0)">50</text>
<text x="50.1" y="361.15" font-size="11.2" text-anchor="end" transform="translate(50.1 0) scale(1.07 1) translate(-50.1 0)">0</text>
<text x="50.1" y="382.6" font-size="11.2" text-anchor="end" transform="translate(50.1 0) scale(1.07 1) translate(-50.1 0)">−50</text>
<text x="63.6" y="336.2" font-size="11.2" textLength="68.8" lengthAdjust="spacingAndGlyphs" word-spacing="1.4">KOI 1270.02</text>
<text x="188.2" y="336.2" font-size="11.2" textLength="56.4" lengthAdjust="spacingAndGlyphs">Kepler57c</text>
<text y="410.9" font-size="12.3" text-anchor="middle" transform="translate(54.4 0) scale(0.99 1)">0</text>
<text y="410.9" font-size="12.3" text-anchor="middle" transform="translate(143.9 0) scale(0.99 1)">500</text>
<text y="410.9" font-size="12.3" text-anchor="middle" transform="translate(233.4 0) scale(0.99 1)">1000</text>
<text y="410.9" font-size="12.3" text-anchor="middle" transform="translate(322.9 0) scale(0.99 1)">1500</text>
</g>
<g id="R1">
<path d="M464.2 0.3V71.5M553.55 0.3V71.5M642.9 0.3V71.5M374.85 69.3H652.05M374.85 55.12H652.05M374.85 40.95H652.05M374.85 26.77H652.05M374.85 12.6H652.05" stroke="#a4a4a4" stroke-width="0.85" stroke-dasharray="1.2 4.1" fill="none"/>
<path d="M383.79 71.5v-1.4M383.79 0.3v1.4M392.72 71.5v-1.4M392.72 0.3v1.4M401.66 71.5v-1.4M401.66 0.3v1.4M410.59 71.5v-1.4M410.59 0.3v1.4M419.53 71.5v-1.4M419.53 0.3v1.4M428.46 71.5v-1.4M428.46 0.3v1.4M437.4 71.5v-1.4M437.4 0.3v1.4M446.33 71.5v-1.4M446.33 0.3v1.4M455.26 71.5v-1.4M455.26 0.3v1.4M464.2 71.5v-2.7M464.2 0.3v2.7M473.13 71.5v-1.4M473.13 0.3v1.4M482.07 71.5v-1.4M482.07 0.3v1.4M491 71.5v-1.4M491 0.3v1.4M499.94 71.5v-1.4M499.94 0.3v1.4M508.88 71.5v-1.4M508.88 0.3v1.4M517.81 71.5v-1.4M517.81 0.3v1.4M526.75 71.5v-1.4M526.75 0.3v1.4M535.68 71.5v-1.4M535.68 0.3v1.4M544.62 71.5v-1.4M544.62 0.3v1.4M553.55 71.5v-2.7M553.55 0.3v2.7M562.49 71.5v-1.4M562.49 0.3v1.4M571.42 71.5v-1.4M571.42 0.3v1.4M580.36 71.5v-1.4M580.36 0.3v1.4M589.29 71.5v-1.4M589.29 0.3v1.4M598.23 71.5v-1.4M598.23 0.3v1.4M607.16 71.5v-1.4M607.16 0.3v1.4M616.1 71.5v-1.4M616.1 0.3v1.4M625.03 71.5v-1.4M625.03 0.3v1.4M633.97 71.5v-1.4M633.97 0.3v1.4M642.9 71.5v-2.7M642.9 0.3v2.7M374.85 69.3h2.7M652.05 69.3h-2.7M374.85 62.21h1.4M652.05 62.21h-1.4M374.85 55.12h2.7M652.05 55.12h-2.7M374.85 48.04h1.4M652.05 48.04h-1.4M374.85 40.95h2.7M652.05 40.95h-2.7M374.85 33.86h1.4M652.05 33.86h-1.4M374.85 26.77h2.7M652.05 26.77h-2.7M374.85 19.69h1.4M652.05 19.69h-1.4M374.85 12.6h2.7M652.05 12.6h-2.7M374.85 5.51h1.4M652.05 5.51h-1.4" stroke="#111" stroke-width="1.0" fill="none"/>
<clipPath id="cR1"><rect x="374.85" y="0.3" width="277.2" height="71.2"/></clipPath>
<g clip-path="url(#cR1)">
<g fill="#0000ff"><circle cx="429.95" cy="44.8" r="2.1"/><circle cx="478.7" cy="52.7" r="2.1"/><circle cx="527.4" cy="35.1" r="2.1"/><circle cx="576.1" cy="3.95" r="2.1"/><circle cx="624.8" cy="68.7" r="2.1"/></g></g>
<rect x="374.85" y="0.3" width="277.2" height="71.2" fill="none" stroke="#222" stroke-width="0.95"/>
<text x="370.35" y="16.9" font-size="11.2" text-anchor="end" transform="translate(370.35 0) scale(1.07 1) translate(-370.35 0)">400</text>
<text x="370.35" y="31.07" font-size="11.2" text-anchor="end" transform="translate(370.35 0) scale(1.07 1) translate(-370.35 0)">200</text>
<text x="370.35" y="45.25" font-size="11.2" text-anchor="end" transform="translate(370.35 0) scale(1.07 1) translate(-370.35 0)">0</text>
<text x="370.35" y="59.42" font-size="11.2" text-anchor="end" transform="translate(370.35 0) scale(1.07 1) translate(-370.35 0)">−200</text>
<text x="370.35" y="73.6" font-size="11.2" text-anchor="end" transform="translate(370.35 0) scale(1.07 1) translate(-370.35 0)">−400</text>
<text x="383.85" y="11.5" font-size="11.2" textLength="68.8" lengthAdjust="spacingAndGlyphs" word-spacing="1.4">KOI 1209.01</text>
</g>
<g id="R2">
<path d="M464.2 81.7V153M553.55 81.7V153M642.9 81.7V153M374.85 146.2H652.05M374.85 130H652.05M374.85 113.8H652.05M374.85 97.6H652.05" stroke="#a4a4a4" stroke-width="0.85" stroke-dasharray="1.2 4.1" fill="none"/>
<path d="M383.79 153v-1.4M383.79 81.7v1.4M392.72 153v-1.4M392.72 81.7v1.4M401.66 153v-1.4M401.66 81.7v1.4M410.59 153v-1.4M410.59 81.7v1.4M419.53 153v-1.4M419.53 81.7v1.4M428.46 153v-1.4M428.46 81.7v1.4M437.4 153v-1.4M437.4 81.7v1.4M446.33 153v-1.4M446.33 81.7v1.4M455.26 153v-1.4M455.26 81.7v1.4M464.2 153v-2.7M464.2 81.7v2.7M473.13 153v-1.4M473.13 81.7v1.4M482.07 153v-1.4M482.07 81.7v1.4M491 153v-1.4M491 81.7v1.4M499.94 153v-1.4M499.94 81.7v1.4M508.88 153v-1.4M508.88 81.7v1.4M517.81 153v-1.4M517.81 81.7v1.4M526.75 153v-1.4M526.75 81.7v1.4M535.68 153v-1.4M535.68 81.7v1.4M544.62 153v-1.4M544.62 81.7v1.4M553.55 153v-2.7M553.55 81.7v2.7M562.49 153v-1.4M562.49 81.7v1.4M571.42 153v-1.4M571.42 81.7v1.4M580.36 153v-1.4M580.36 81.7v1.4M589.29 153v-1.4M589.29 81.7v1.4M598.23 153v-1.4M598.23 81.7v1.4M607.16 153v-1.4M607.16 81.7v1.4M616.1 153v-1.4M616.1 81.7v1.4M625.03 153v-1.4M625.03 81.7v1.4M633.97 153v-1.4M633.97 81.7v1.4M642.9 153v-2.7M642.9 81.7v2.7M374.85 146.2h2.7M652.05 146.2h-2.7M374.85 138.1h1.4M652.05 138.1h-1.4M374.85 130h2.7M652.05 130h-2.7M374.85 121.9h1.4M652.05 121.9h-1.4M374.85 113.8h2.7M652.05 113.8h-2.7M374.85 105.7h1.4M652.05 105.7h-1.4M374.85 97.6h2.7M652.05 97.6h-2.7M374.85 89.5h1.4M652.05 89.5h-1.4" stroke="#111" stroke-width="1.0" fill="none"/>
<clipPath id="cR2"><rect x="374.85" y="81.7" width="277.2" height="71.3"/></clipPath>
<g clip-path="url(#cR2)">
<path d="M389.78 115.57V126.6M399 117.22V127.43M408.05 114.42V123.31M417.27 106.85V117.22M426.33 99.44V110.14M435.55 107.01V116.4M444.6 113.93V122.98M453.82 84.29V98.78M472.02 95.49V104.54M481.07 94.17V99.11M499.35 114.75V124.96M508.4 102.73V118.04M517.62 120.02V133.68M526.68 122.98V132.53M535.9 131.71V149.32M544.95 112.61V123.8M563.31 106.02V117.71M599.86 113.6V123.8M609.08 105.37V113.6M618.3 97.46V104.87M636.57 106.52V114.75" stroke="#6464ff" stroke-width="1.25" fill="none"/>
<g fill="#0000ff"><circle cx="389.78" cy="121.01" r="2.1"/><circle cx="399" cy="122.16" r="2.1"/><circle cx="408.05" cy="118.87" r="2.1"/><circle cx="417.27" cy="111.95" r="2.1"/><circle cx="426.33" cy="104.71" r="2.1"/><circle cx="435.55" cy="111.79" r="2.1"/><circle cx="444.6" cy="118.54" r="2.1"/><circle cx="453.82" cy="92.03" r="2.1"/><circle cx="472.02" cy="99.93" r="2.1"/><circle cx="481.07" cy="96.64" r="2.1"/><circle cx="499.35" cy="119.85" r="2.1"/><circle cx="508.4" cy="110.3" r="2.1"/><circle cx="517.62" cy="126.93" r="2.1"/><circle cx="526.68" cy="127.92" r="2.1"/><circle cx="535.9" cy="140.43" r="2.1"/><circle cx="544.95" cy="118.37" r="2.1"/><circle cx="563.31" cy="111.79" r="2.1"/><circle cx="599.86" cy="118.87" r="2.1"/><circle cx="609.08" cy="109.48" r="2.1"/><circle cx="618.3" cy="101.25" r="2.1"/><circle cx="636.57" cy="110.63" r="2.1"/></g></g>
<rect x="374.85" y="81.7" width="277.2" height="71.3" fill="none" stroke="#222" stroke-width="0.95"/>
<text x="370.35" y="85.7" font-size="11.2" text-anchor="end" transform="translate(370.35 0) scale(1.07 1) translate(-370.35 0)">400</text>
<text x="370.35" y="101.9" font-size="11.2" text-anchor="end" transform="translate(370.35 0) scale(1.07 1) translate(-370.35 0)">200</text>
<text x="370.35" y="118.1" font-size="11.2" text-anchor="end" transform="translate(370.35 0) scale(1.07 1) translate(-370.35 0)">0</text>
<text x="370.35" y="134.3" font-size="11.2" text-anchor="end" transform="translate(370.35 0) scale(1.07 1) translate(-370.35 0)">−200</text>
<text x="370.35" y="150.5" font-size="11.2" text-anchor="end" transform="translate(370.35 0) scale(1.07 1) translate(-370.35 0)">−400</text>
<text x="383.85" y="93.2" font-size="11.2" textLength="68.8" lengthAdjust="spacingAndGlyphs" word-spacing="1.4">KOI 1221.02</text>
<text x="508.45" y="93.2" font-size="11.2" textLength="62.6" lengthAdjust="spacingAndGlyphs">Kepler278c</text>
</g>
<g id="R3">
<path d="M464.2 163V234M553.55 163V234M642.9 163V234M374.85 228.1H652.05M374.85 200.8H652.05M374.85 173.5H652.05" stroke="#a4a4a4" stroke-width="0.85" stroke-dasharray="1.2 4.1" fill="none"/>
<path d="M383.79 234v-1.4M383.79 163v1.4M392.72 234v-1.4M392.72 163v1.4M401.66 234v-1.4M401.66 163v1.4M410.59 234v-1.4M410.59 163v1.4M419.53 234v-1.4M419.53 163v1.4M428.46 234v-1.4M428.46 163v1.4M437.4 234v-1.4M437.4 163v1.4M446.33 234v-1.4M446.33 163v1.4M455.26 234v-1.4M455.26 163v1.4M464.2 234v-2.7M464.2 163v2.7M473.13 234v-1.4M473.13 163v1.4M482.07 234v-1.4M482.07 163v1.4M491 234v-1.4M491 163v1.4M499.94 234v-1.4M499.94 163v1.4M508.88 234v-1.4M508.88 163v1.4M517.81 234v-1.4M517.81 163v1.4M526.75 234v-1.4M526.75 163v1.4M535.68 234v-1.4M535.68 163v1.4M544.62 234v-1.4M544.62 163v1.4M553.55 234v-2.7M553.55 163v2.7M562.49 234v-1.4M562.49 163v1.4M571.42 234v-1.4M571.42 163v1.4M580.36 234v-1.4M580.36 163v1.4M589.29 234v-1.4M589.29 163v1.4M598.23 234v-1.4M598.23 163v1.4M607.16 234v-1.4M607.16 163v1.4M616.1 234v-1.4M616.1 163v1.4M625.03 234v-1.4M625.03 163v1.4M633.97 234v-1.4M633.97 163v1.4M642.9 234v-2.7M642.9 163v2.7M374.85 228.1h2.7M652.05 228.1h-2.7M374.85 221.27h1.4M652.05 221.27h-1.4M374.85 214.45h1.4M652.05 214.45h-1.4M374.85 207.62h1.4M652.05 207.62h-1.4M374.85 200.8h2.7M652.05 200.8h-2.7M374.85 193.97h1.4M652.05 193.97h-1.4M374.85 187.15h1.4M652.05 187.15h-1.4M374.85 180.32h1.4M652.05 180.32h-1.4M374.85 173.5h2.7M652.05 173.5h-2.7M374.85 166.68h1.4M652.05 166.68h-1.4" stroke="#111" stroke-width="1.0" fill="none"/>
<clipPath id="cR3"><rect x="374.85" y="163" width="277.2" height="71"/></clipPath>
<g clip-path="url(#cR3)">
<path d="M505.93 219.29V225.88M515.81 207.77V215.01M564.3 188.67V194.6" stroke="#6464ff" stroke-width="1.25" fill="none"/>
<g fill="#0000ff"><circle cx="388.96" cy="167.76" r="2.1"/><circle cx="408.38" cy="172.54" r="2.1"/><circle cx="418.26" cy="183.4" r="2.1"/><circle cx="457.12" cy="213.37" r="2.1"/><circle cx="466.91" cy="221.93" r="2.1"/><circle cx="476.79" cy="218.96" r="2.1"/><circle cx="486.51" cy="229.66" r="2.1"/><circle cx="496.22" cy="219.13" r="2.1"/><circle cx="505.93" cy="222.59" r="2.1"/><circle cx="515.81" cy="211.39" r="2.1"/><circle cx="525.52" cy="214.52" r="2.1"/><circle cx="535.24" cy="205.96" r="2.1"/><circle cx="544.95" cy="197.56" r="2.1"/><circle cx="564.3" cy="191.63" r="2.1"/><circle cx="583.89" cy="179.29" r="2.1"/><circle cx="603.32" cy="182.25" r="2.1"/><circle cx="613.03" cy="182.91" r="2.1"/><circle cx="642.34" cy="201.35" r="2.1"/></g></g>
<rect x="374.85" y="163" width="277.2" height="71" fill="none" stroke="#222" stroke-width="0.95"/>
<text x="370.35" y="177.8" font-size="11.2" text-anchor="end" transform="translate(370.35 0) scale(1.07 1) translate(-370.35 0)">200</text>
<text x="370.35" y="205.1" font-size="11.2" text-anchor="end" transform="translate(370.35 0) scale(1.07 1) translate(-370.35 0)">0</text>
<text x="370.35" y="232.4" font-size="11.2" text-anchor="end" transform="translate(370.35 0) scale(1.07 1) translate(-370.35 0)">−200</text>
<text x="383.85" y="174" font-size="11.2" textLength="68.8" lengthAdjust="spacingAndGlyphs" word-spacing="1.4">KOI 1236.03</text>
<text x="508.45" y="174" font-size="11.2" textLength="62.6" lengthAdjust="spacingAndGlyphs">Kepler279d</text>
</g>
<g id="R4">
<path d="M464.2 244V315.3M553.55 244V315.3M642.9 244V315.3M374.85 303.7H652.05M374.85 277.85H652.05M374.85 252H652.05" stroke="#a4a4a4" stroke-width="0.85" stroke-dasharray="1.2 4.1" fill="none"/>
<path d="M383.79 315.3v-1.4M383.79 244v1.4M392.72 315.3v-1.4M392.72 244v1.4M401.66 315.3v-1.4M401.66 244v1.4M410.59 315.3v-1.4M410.59 244v1.4M419.53 315.3v-1.4M419.53 244v1.4M428.46 315.3v-1.4M428.46 244v1.4M437.4 315.3v-1.4M437.4 244v1.4M446.33 315.3v-1.4M446.33 244v1.4M455.26 315.3v-1.4M455.26 244v1.4M464.2 315.3v-2.7M464.2 244v2.7M473.13 315.3v-1.4M473.13 244v1.4M482.07 315.3v-1.4M482.07 244v1.4M491 315.3v-1.4M491 244v1.4M499.94 315.3v-1.4M499.94 244v1.4M508.88 315.3v-1.4M508.88 244v1.4M517.81 315.3v-1.4M517.81 244v1.4M526.75 315.3v-1.4M526.75 244v1.4M535.68 315.3v-1.4M535.68 244v1.4M544.62 315.3v-1.4M544.62 244v1.4M553.55 315.3v-2.7M553.55 244v2.7M562.49 315.3v-1.4M562.49 244v1.4M571.42 315.3v-1.4M571.42 244v1.4M580.36 315.3v-1.4M580.36 244v1.4M589.29 315.3v-1.4M589.29 244v1.4M598.23 315.3v-1.4M598.23 244v1.4M607.16 315.3v-1.4M607.16 244v1.4M616.1 315.3v-1.4M616.1 244v1.4M625.03 315.3v-1.4M625.03 244v1.4M633.97 315.3v-1.4M633.97 244v1.4M642.9 315.3v-2.7M642.9 244v2.7M374.85 314.04h1.4M652.05 314.04h-1.4M374.85 308.87h1.4M652.05 308.87h-1.4M374.85 303.7h2.7M652.05 303.7h-2.7M374.85 298.53h1.4M652.05 298.53h-1.4M374.85 293.36h1.4M652.05 293.36h-1.4M374.85 288.19h1.4M652.05 288.19h-1.4M374.85 283.02h1.4M652.05 283.02h-1.4M374.85 277.85h2.7M652.05 277.85h-2.7M374.85 272.68h1.4M652.05 272.68h-1.4M374.85 267.51h1.4M652.05 267.51h-1.4M374.85 262.34h1.4M652.05 262.34h-1.4M374.85 257.17h1.4M652.05 257.17h-1.4M374.85 252h2.7M652.05 252h-2.7M374.85 246.83h1.4M652.05 246.83h-1.4" stroke="#111" stroke-width="1.0" fill="none"/>
<clipPath id="cR4"><rect x="374.85" y="244" width="277.2" height="71.3"/></clipPath>
<g clip-path="url(#cR4)">
<path d="M413.16 246.62V267.7M430.94 262.43V282.18M448.72 265.72V286.63M466.59 256.99V277.57M484.37 284.16V303.91M502.31 279.22V299.8M520.09 267.37V287.78M538.04 283.01V304.24M555.74 277.24V297.66M573.52 292.06V311.82M591.46 267.7V288.27M609.24 268.02V288.77" stroke="#6464ff" stroke-width="1.25" fill="none"/>
<g fill="#0000ff"><circle cx="413.16" cy="257.32" r="2.1"/><circle cx="430.94" cy="272.3" r="2.1"/><circle cx="448.72" cy="276.09" r="2.1"/><circle cx="466.59" cy="267.2" r="2.1"/><circle cx="484.37" cy="294.2" r="2.1"/><circle cx="502.31" cy="289.43" r="2.1"/><circle cx="520.09" cy="277.41" r="2.1"/><circle cx="538.04" cy="293.54" r="2.1"/><circle cx="555.74" cy="287.45" r="2.1"/><circle cx="573.52" cy="301.77" r="2.1"/><circle cx="591.46" cy="278.07" r="2.1"/><circle cx="609.24" cy="278.4" r="2.1"/></g></g>
<rect x="374.85" y="244" width="277.2" height="71.3" fill="none" stroke="#222" stroke-width="0.95"/>
<text x="370.35" y="256.3" font-size="11.2" text-anchor="end" transform="translate(370.35 0) scale(1.07 1) translate(-370.35 0)">5</text>
<text x="370.35" y="282.15" font-size="11.2" text-anchor="end" transform="translate(370.35 0) scale(1.07 1) translate(-370.35 0)">0</text>
<text x="370.35" y="308" font-size="11.2" text-anchor="end" transform="translate(370.35 0) scale(1.07 1) translate(-370.35 0)">−5</text>
<text x="383.85" y="255" font-size="11.2" textLength="68.8" lengthAdjust="spacingAndGlyphs" word-spacing="1.4">KOI 1242.01</text>
</g>
<g id="R5">
<path d="M464.2 325.2V396.4M553.55 325.2V396.4M642.9 325.2V396.4M374.85 375.6H652.05M374.85 353.95H652.05M374.85 332.3H652.05" stroke="#a4a4a4" stroke-width="0.85" stroke-dasharray="1.2 4.1" fill="none"/>
<path d="M383.79 396.4v-1.4M383.79 325.2v1.4M392.72 396.4v-1.4M392.72 325.2v1.4M401.66 396.4v-1.4M401.66 325.2v1.4M410.59 396.4v-1.4M410.59 325.2v1.4M419.53 396.4v-1.4M419.53 325.2v1.4M428.46 396.4v-1.4M428.46 325.2v1.4M437.4 396.4v-1.4M437.4 325.2v1.4M446.33 396.4v-1.4M446.33 325.2v1.4M455.26 396.4v-1.4M455.26 325.2v1.4M464.2 396.4v-2.7M464.2 325.2v2.7M473.13 396.4v-1.4M473.13 325.2v1.4M482.07 396.4v-1.4M482.07 325.2v1.4M491 396.4v-1.4M491 325.2v1.4M499.94 396.4v-1.4M499.94 325.2v1.4M508.88 396.4v-1.4M508.88 325.2v1.4M517.81 396.4v-1.4M517.81 325.2v1.4M526.75 396.4v-1.4M526.75 325.2v1.4M535.68 396.4v-1.4M535.68 325.2v1.4M544.62 396.4v-1.4M544.62 325.2v1.4M553.55 396.4v-2.7M553.55 325.2v2.7M562.49 396.4v-1.4M562.49 325.2v1.4M571.42 396.4v-1.4M571.42 325.2v1.4M580.36 396.4v-1.4M580.36 325.2v1.4M589.29 396.4v-1.4M589.29 325.2v1.4M598.23 396.4v-1.4M598.23 325.2v1.4M607.16 396.4v-1.4M607.16 325.2v1.4M616.1 396.4v-1.4M616.1 325.2v1.4M625.03 396.4v-1.4M625.03 325.2v1.4M633.97 396.4v-1.4M633.97 325.2v1.4M642.9 396.4v-2.7M642.9 325.2v2.7M374.85 386.43h1.4M652.05 386.43h-1.4M374.85 375.6h2.7M652.05 375.6h-2.7M374.85 364.78h1.4M652.05 364.78h-1.4M374.85 353.95h2.7M652.05 353.95h-2.7M374.85 343.12h1.4M652.05 343.12h-1.4M374.85 332.3h2.7M652.05 332.3h-2.7" stroke="#111" stroke-width="1.0" fill="none"/>
<clipPath id="cR5"><rect x="374.85" y="325.2" width="277.2" height="71.2"/></clipPath>
<g clip-path="url(#cR5)">
<g fill="#0000ff"><circle cx="441.37" cy="327.73" r="2.1"/><circle cx="470.34" cy="342" r="2.1"/><circle cx="499.32" cy="392.27" r="2.1"/><circle cx="528.02" cy="364.39" r="2.1"/><circle cx="557.22" cy="369.66" r="2.1"/><circle cx="586.2" cy="340.46" r="2.1"/><circle cx="644.37" cy="340.9" r="2.1"/></g></g>
<rect x="374.85" y="325.2" width="277.2" height="71.2" fill="none" stroke="#222" stroke-width="0.95"/>
<text x="370.35" y="336.6" font-size="11.2" text-anchor="end" transform="translate(370.35 0) scale(1.07 1) translate(-370.35 0)">100</text>
<text x="370.35" y="358.25" font-size="11.2" text-anchor="end" transform="translate(370.35 0) scale(1.07 1) translate(-370.35 0)">0</text>
<text x="370.35" y="379.9" font-size="11.2" text-anchor="end" transform="translate(370.35 0) scale(1.07 1) translate(-370.35 0)">−100</text>
<text x="383.85" y="336.2" font-size="11.2" textLength="68.8" lengthAdjust="spacingAndGlyphs" word-spacing="1.4">KOI 1271.01</text>
<text y="410.9" font-size="12.3" text-anchor="middle" transform="translate(374.65 0) scale(0.99 1)">0</text>
<text y="410.9" font-size="12.3" text-anchor="middle" transform="translate(464 0) scale(0.99 1)">500</text>
<text y="410.9" font-size="12.3" text-anchor="middle" transform="translate(553.35 0) scale(0.99 1)">1000</text>
<text y="410.9" font-size="12.3" text-anchor="middle" transform="translate(642.7 0) scale(0.99 1)">1500</text>
</g>
<text x="268" y="434" font-size="16.9" stroke-width="0.35" textLength="191" lengthAdjust="spacingAndGlyphs">Time [BJD −2454900]</text>
<text font-size="16.8" stroke-width="0.35" textLength="82.6" lengthAdjust="spacingAndGlyphs" transform="translate(15.1 237.8) rotate(-90) scale(1 1.32)">O−C [min]</text>
</svg></body></html>
